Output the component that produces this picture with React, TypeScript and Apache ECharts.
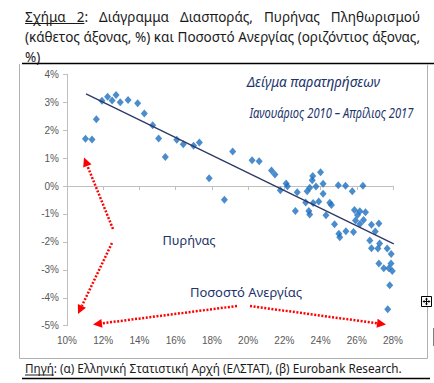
import React, { useEffect, useRef } from "react";
import * as echarts from "echarts";

// Unemployment rate (x, %) and core inflation (y, %), Jan 2010 – Apr 2017
const unemployment = [11.02, 11.38, 11.62, 11.93, 12.24, 12.49, 12.71, 12.94, 13.37, 13.9, 14.27, 14.73, 15.06, 15.43, 16.06, 16.42, 16.99, 17.31, 17.85, 18.69, 19.15, 20.22, 20.61, 21.29, 21.48, 21.78, 22.1, 22.17, 22.61, 22.71, 23.18, 23.26, 23.35, 23.4, 23.4, 23.54, 23.57, 23.59, 23.75, 23.9, 24.0, 24.14, 24.14, 24.3, 24.51, 24.6, 24.77, 24.98, 25.01, 25.06, 25.38, 25.4, 25.75, 25.82, 25.87, 25.93, 26.04, 26.17, 26.17, 26.34, 26.37, 26.48, 26.72, 26.81, 26.81, 27.02, 27.17, 27.22, 27.22, 27.26, 27.49, 27.68, 27.77, 27.82, 27.89, 27.9, 27.96, 28.03, 27.71];
const coreInflation = [1.69, 1.67, 2.39, 3.05, 3.2, 3.06, 3.26, 3.0, 3.08, 2.96, 2.6, 2.18, 1.7, 1.04, 1.66, 1.5, 1.44, 1.56, 0.28, -0.49, 1.24, 0.92, 0.89, 0.56, 0.41, -0.15, 0.09, -0.01, -0.89, -0.22, -0.59, -0.19, -0.89, -1.02, -0.06, 0.21, 0.36, -0.61, -0.02, -0.55, 0.49, 0.08, -0.28, -1.05, -0.6, -0.68, -1.37, 0.03, -1.71, -1.83, 0.01, -1.62, -0.19, -1.65, -0.86, -1.23, -1.04, -0.9, -1.36, 0.01, -1.22, -0.94, -1.95, -1.39, -2.23, -1.63, -2.24, -1.34, -2.77, -2.06, -2.94, -2.24, -2.94, -3.55, -2.77, -2.43, -3.04, -3.12, -4.41];

// Linear trend line end points
const trendUnemployment = [11.05, 28.04];
const trendCore = [3.3, -2.07];

// Axis ranges: [min, max, interval]
const xAxisRange = [10, 28, 2];
const yAxisRange = [-5, 4, 1];

// Texts
const titleLine1 = ["Σχήμα", "2:", "Διάγραμμα", "Διασποράς,", "Πυρήνας", "Πληθωρισμού"];
const titleLine2 = ["(κάθετος", "άξονας,", "%)", "και", "Ποσοστό", "Ανεργίας", "(οριζόντιος", "άξονας,"];
const titleLine3 = "%)";
const sourceLabel = "Πηγή";
const sourceText = ": (α) Ελληνική Στατιστική Αρχή (ΕΛΣΤΑΤ), (β) Eurobank Research.";
const noteSample = "Δείγμα παρατηρήσεων";
const notePeriod = "Ιανουάριος 2010 – Απρίλιος 2017";
const noteCore = "Πυρήνας";
const noteUnemp = "Ποσοστό Ανεργίας";

const FAMILY = '"Noto Sans"';

export default function App() {
  const ref = useRef<HTMLDivElement>(null);

  useEffect(() => {
    if (!ref.current) return;
    const chart = echarts.init(ref.current, undefined, { renderer: "svg" });

    const ctx = document.createElement("canvas").getContext("2d")!;
    const measure = (t: string, font: string) => {
      ctx.font = font;
      return ctx.measureText(t).width;
    };
    const fitSize = (t: string, target: number, style = "") => {
      const w = measure(t, `${style} 12px ${FAMILY}`);
      return (12 * target) / w;
    };

    const g: any[] = [];
    const text = (t: string, x: number, y: number, font: string, fill: string, align = "left", scaleX = 1) => {
      g.push({
        type: "text",
        x,
        y,
        scaleX,
        silent: true,
        z: 100,
        style: { text: t, font, fill, textAlign: align, textVerticalAlign: "middle" },
      });
    };
    const line = (x1: number, y1: number, x2: number, y2: number, stroke: string, lineWidth: number, lineDash?: number[], z = 90) => {
      g.push({
        type: "line",
        silent: true,
        z,
        shape: { x1, y1, x2, y2 },
        style: { stroke, lineWidth, lineDash, lineCap: "butt" },
      });
    };

    // Title (justified lines)
    const L = 25, R = 420;
    const titleColor = "#1a1a1a";
    const titleSize = fitSize(titleLine2.join(" "), R - L);
    const titleFont = `${titleSize.toFixed(2)}px ${FAMILY}`;
    const justify = (words: string[], y: number, underlineUpTo?: number) => {
      const widths = words.map((w) => measure(w, titleFont));
      const total = widths.reduce((a, b) => a + b, 0);
      const gap = Math.max(2, (R - L - total) / (words.length - 1));
      let x = L;
      words.forEach((w, i) => {
        text(w, x, y, titleFont, titleColor);
        if (underlineUpTo !== undefined && i === underlineUpTo) {
          const endX = x + measure("2", titleFont);
          line(L, y + 7, endX, y + 7, titleColor, 1);
        }
        x += widths[i] + gap;
      });
    };
    justify(titleLine1, 16.5, 1);
    justify(titleLine2, 37);
    text(titleLine3, L, 57, titleFont, titleColor);

    // Frame
    line(22, 63.5, 434, 63.5, "#000", 1.5);
    line(19.5, 64, 19.5, 358.5, "#b0b0b0", 1);
    line(427.5, 64, 427.5, 358.5, "#b0b0b0", 1);
    line(19.5, 358.5, 427.5, 358.5, "#b0b0b0", 1);
    line(22, 378.5, 430, 378.5, "#000", 1.5);
    line(433.5, 328, 433.5, 346, "#808080", 1);

    // Source
    const srcSize = fitSize(sourceLabel + sourceText, 377);
    const srcFont = `${srcSize.toFixed(2)}px ${FAMILY}`;
    text(sourceLabel, 25, 368, srcFont, titleColor);
    const lw = measure(sourceLabel, srcFont);
    line(25, 375, 25 + lw, 375, titleColor, 1);
    text(sourceText, 25 + lw, 368, srcFont, titleColor);

    // Annotations
    const noteColor = "#22346b";
    const s1 = fitSize(noteSample, 133, "italic");
    const noteFont = `italic ${s1.toFixed(2)}px ${FAMILY}`;
    text(noteSample, 313.5, 81, noteFont, noteColor, "center");
    const periodW = measure(notePeriod, noteFont);
    text(notePeriod, 249.5, 113.5, noteFont, noteColor, "left", 164 / periodW);
    const s3 = fitSize(noteCore, 53);
    text(noteCore, 162.5, 239.5, `${s3.toFixed(2)}px ${FAMILY}`, noteColor);
    const s4 = fitSize(noteUnemp, 112);
    text(noteUnemp, 190, 291.5, `${s4.toFixed(2)}px ${FAMILY}`, noteColor);

    // Red dotted arrows
    const arrow = (tx: number, ty: number, px: number, py: number) => {
      const dx = px - tx, dy = py - ty;
      const len = Math.hypot(dx, dy);
      const ux = dx / len, uy = dy / len;
      const hl = 9, hw = 4.5;
      const bx = px - ux * hl, by = py - uy * hl;
      line(tx, ty, bx, by, "#ff0000", 2.5, [2, 1.6]);
      g.push({
        type: "polygon",
        silent: true,
        z: 91,
        shape: { points: [[px, py], [bx - uy * hw, by + ux * hw], [bx + uy * hw, by - ux * hw]] },
        style: { fill: "#ff0000" },
      });
    };
    arrow(113, 229, 84, 157.5);
    arrow(112, 243, 78, 314);
    arrow(237, 306, 93, 324.5);
    arrow(250, 306, 386, 324.5);

    // Move handle icon
    g.push({
      type: "rect",
      silent: true,
      z: 95,
      shape: { x: 421.5, y: 296.5, width: 10, height: 10 },
      style: { fill: "#fff", stroke: "#000", lineWidth: 1 },
    });
    line(426.5, 298.5, 426.5, 304.5, "#000", 1, undefined, 96);
    line(423.5, 301.5, 429.5, 301.5, "#000", 1, undefined, 96);
    const tri = (pts: number[][]) =>
      g.push({ type: "polygon", silent: true, z: 96, shape: { points: pts }, style: { fill: "#000" } });
    tri([[426.5, 297.5], [425, 299.5], [428, 299.5]]);
    tri([[426.5, 305.5], [425, 303.5], [428, 303.5]]);
    tri([[422.5, 301.5], [424.5, 300], [424.5, 303]]);
    tri([[430.5, 301.5], [428.5, 300], [428.5, 303]]);

    const axisGray = "#bfbfbf";
    const labelStyle = { color: "#595959", fontSize: 10, fontFamily: '"Liberation Sans"' };

    chart.setOption({
      animation: false,
      backgroundColor: "#ffffff",
      grid: { left: 67, top: 74.3, width: 326, height: 251.4, containLabel: false },
      xAxis: [
        {
          type: "value",
          min: xAxisRange[0],
          max: xAxisRange[1],
          interval: xAxisRange[2],
          position: "bottom",
          axisLine: { show: false, onZero: false },
          axisTick: { show: false },
          splitLine: { show: false },
          axisLabel: { ...labelStyle, margin: 10, formatter: (v: number) => `${v}%` },
        },
        {
          type: "value",
          min: xAxisRange[0],
          max: xAxisRange[1],
          interval: xAxisRange[2],
          position: "bottom",
          axisLine: { show: true, onZero: true, lineStyle: { color: axisGray, width: 1 } },
          axisTick: { show: true, length: 4, lineStyle: { color: axisGray } },
          axisLabel: { show: false },
          splitLine: { show: false },
        },
      ],
      yAxis: {
        type: "value",
        min: yAxisRange[0],
        max: yAxisRange[1],
        interval: yAxisRange[2],
        axisLine: { show: true, onZero: false, lineStyle: { color: axisGray, width: 1 } },
        axisTick: { show: true, length: 4, lineStyle: { color: axisGray } },
        splitLine: { show: false },
        axisLabel: { ...labelStyle, margin: 8, formatter: (v: number) => `${v}%` },
      },
      series: [
        {
          type: "scatter",
          xAxisIndex: 0,
          yAxisIndex: 0,
          symbol: "diamond",
          symbolSize: [7, 8],
          itemStyle: { color: "#1e6fbf" },
          data: unemployment.map((x, i) => [x, coreInflation[i]]),
          z: 3,
        },
        {
          type: "line",
          xAxisIndex: 0,
          yAxisIndex: 0,
          showSymbol: false,
          symbol: "none",
          lineStyle: { color: "#2c3868", width: 1.3 },
          data: trendUnemployment.map((x, i) => [x, trendCore[i]]),
          z: 4,
        },
      ],
      graphic: { elements: g },
    });

    return () => chart.dispose();
  }, []);

  return (
    <div
      ref={ref}
      style={{ position: "absolute", left: 0, top: 0, width: 434, height: 383, background: "#fff" }}
    />
  );
}
